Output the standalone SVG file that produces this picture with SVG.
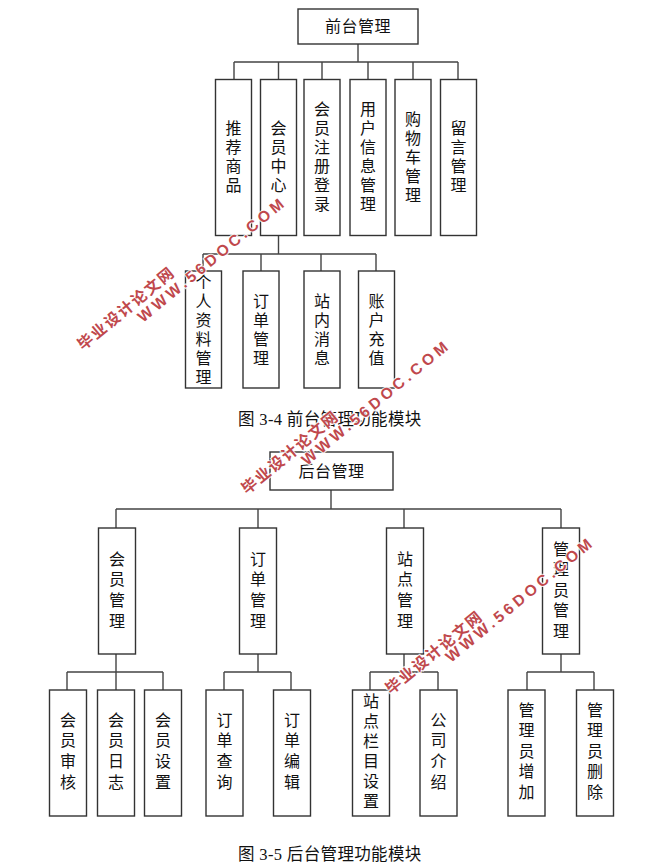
<svg xmlns="http://www.w3.org/2000/svg" width="662" height="867" viewBox="0 0 662 867">
<style>
rect{fill:#fff;stroke:#333;stroke-width:1.4}
#connectors path{fill:none;stroke:#444;stroke-width:1.4}
text{font-family:"Noto Sans CJK SC","Noto Sans",sans-serif;fill:#111;font-size:16px}
.v{writing-mode:vertical-rl;text-anchor:middle;letter-spacing:3px}
.x{writing-mode:vertical-rl;text-anchor:middle;letter-spacing:4px}
.w{writing-mode:vertical-rl;text-anchor:middle;letter-spacing:4.6px}
.h{text-anchor:middle;letter-spacing:.5px}
.c{font-family:"Liberation Serif","Noto Sans CJK SC",serif;font-size:16.5px;letter-spacing:.35px}
.m{font-family:"Liberation Sans","Noto Sans CJK SC",sans-serif;font-weight:700;fill:#c0484c;stroke:#fff;stroke-width:2.2px;stroke-opacity:.85;paint-order:stroke}
.m1{font-size:15.500px;letter-spacing:1.800px}
.m2{font-size:15.500px;letter-spacing:3.700px}
</style>
<rect x="0" y="0" width="662" height="867" style="fill:#fff;stroke:none"/>
<g id="connectors">
<path d="M358 44V62M234 62H458M234 62V79M278.500 62V79M322 62V79M368 62V79M413 62V79M458 62V79"/>
<path d="M278.500 236V254M203 254H376M203 254V271M261 254V271M321 254V271M376 254V271"/>
<path d="M331 490V509M116 509H561M116 509V528M258 509V528M404 509V528M561 509V528"/>
<path d="M116 654V672M67 672H163M67 672V690M116 672V690M163 672V690"/>
<path d="M258 654V672M224 672H291M224 672V690M291 672V690"/>
<path d="M404 654V672M370 672H438M370 672V690M438 672V690"/>
<path d="M561 654V672M527 672H594M527 672V690M594 672V690"/>
</g>
<g id="n-front"><rect x="298" y="9" width="120" height="35"/><text class="h" x="358" y="32">前台管理</text></g>
<g id="n-rec"><rect x="215.500" y="79.500" width="36" height="156"/><text class="v" x="233.500" y="158">推荐商品</text></g>
<g id="n-member"><rect x="260.500" y="79.500" width="36" height="156"/><text class="v" x="278.500" y="158">会员中心</text></g>
<g id="n-reg"><rect x="304" y="79.500" width="36" height="156"/><text class="v" x="322" y="158">会员注册登录</text></g>
<g id="n-user"><rect x="350" y="79.500" width="36" height="156"/><text class="v" x="368" y="158">用户信息管理</text></g>
<g id="n-cart"><rect x="395" y="79.500" width="36" height="156"/><text class="v" x="413" y="158">购物车管理</text></g>
<g id="n-msg"><rect x="440.500" y="79.500" width="36" height="156"/><text class="v" x="458.500" y="158">留言管理</text></g>
<g id="n-profile"><rect x="185.500" y="271" width="36" height="117"/><text class="v" x="203.500" y="331">个人资料管理</text></g>
<g id="n-order"><rect x="243" y="271" width="36" height="117"/><text class="v" x="261" y="331">订单管理</text></g>
<g id="n-inbox"><rect x="304" y="271" width="36" height="117"/><text class="v" x="322" y="331">站内消息</text></g>
<g id="n-topup"><rect x="358.500" y="271" width="36" height="117"/><text class="v" x="376.500" y="331">账户充值</text></g>
<text class="c" x="238" y="425">图 3-4 前台管理功能模块</text>
<g id="n-back"><rect x="270" y="452" width="123" height="38"/><text class="h" x="331.500" y="477">后台管理</text></g>
<g id="n-mm"><rect x="98.500" y="528" width="37" height="126"/><text class="w" x="117" y="592">会员管理</text></g>
<g id="n-om"><rect x="239.500" y="528" width="37" height="126"/><text class="w" x="258" y="592">订单管理</text></g>
<g id="n-sm"><rect x="386.500" y="528" width="37" height="126"/><text class="w" x="405" y="592">站点管理</text></g>
<g id="n-am"><rect x="542.500" y="528" width="37" height="126"/><text class="w" x="561" y="592">管理员管理</text></g>
<g id="n-m1"><rect x="49.500" y="690" width="37" height="126"/><text class="w" x="68" y="753">会员审核</text></g>
<g id="n-m2"><rect x="97.500" y="690" width="37" height="126"/><text class="w" x="116" y="753">会员日志</text></g>
<g id="n-m3"><rect x="144.500" y="690" width="37" height="126"/><text class="w" x="163" y="753">会员设置</text></g>
<g id="n-o1"><rect x="206" y="690" width="37" height="126"/><text class="w" x="224.500" y="753">订单查询</text></g>
<g id="n-o2"><rect x="273.500" y="690" width="37" height="126"/><text class="w" x="292" y="753">订单编辑</text></g>
<g id="n-s1"><rect x="352.500" y="690" width="37" height="126"/><text class="x" x="371" y="753">站点栏目设置</text></g>
<g id="n-s2"><rect x="420" y="690" width="37" height="126"/><text class="w" x="438.500" y="753">公司介绍</text></g>
<g id="n-a1"><rect x="508" y="690" width="37" height="126"/><text class="w" x="526.500" y="753">管理员增加</text></g>
<g id="n-a2"><rect x="576.500" y="690" width="37" height="126"/><text class="w" x="595" y="753">管理员删除</text></g>
<text class="c" x="238" y="860">图 3-5 后台管理功能模块</text>
<g id="watermarks">
<text class="m m1" transform="translate(83 351) rotate(-39.500)">毕业设计论文网</text>
<text class="m m2" transform="translate(143 323) rotate(-39.500)">WWW.56DOC.COM</text>
<text class="m m1" transform="translate(247 495) rotate(-39.500)">毕业设计论文网</text>
<text class="m m2" transform="translate(307 466) rotate(-39.500)">WWW.56DOC.COM</text>
<text class="m m1" transform="translate(391 695) rotate(-39.500)">毕业设计论文网</text>
<text class="m m2" transform="translate(451 663) rotate(-39.500)">WWW.56DOC.COM</text>
</g>
</svg>
